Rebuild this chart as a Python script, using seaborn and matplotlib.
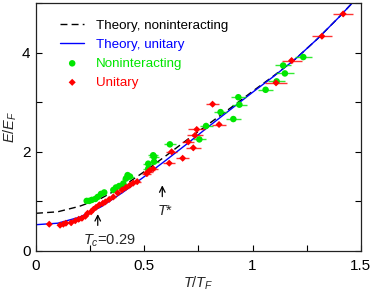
import numpy as np
import pandas as pd
import seaborn as sns
import matplotlib.pyplot as plt
from matplotlib.ticker import MultipleLocator, FormatStrFormatter

# theory curves
theory_x = [0, 0.1, 0.2, 0.3, 0.4, 0.5, 0.6, 0.7, 0.8, 0.9, 1.0, 1.1, 1.2, 1.3, 1.4, 1.46]
unitary_theory = [0.53, 0.56, 0.68, 0.89, 1.18, 1.50, 1.83, 2.17, 2.52, 2.86, 3.20, 3.53, 3.88, 4.28, 4.72, 5.0]
nonint_theory = [0.76, 0.79, 0.90, 1.06, 1.30, 1.60, 1.92, 2.25, 2.57, 2.89, 3.22, 3.54, 3.88, 4.28, 4.72, 5.0]

# unitary gas data
uni_t = [0.061, 0.111, 0.126, 0.138, 0.162, 0.181, 0.197, 0.212, 0.228, 0.238, 0.254,
         0.265, 0.277, 0.292, 0.308, 0.320, 0.338, 0.357, 0.377, 0.397, 0.415, 0.434,
         0.449, 0.467, 0.511, 0.518, 0.526, 0.541, 0.615, 0.626, 0.677, 0.703, 0.726,
         0.742, 0.734, 0.815, 0.845, 1.108, 1.180, 1.320, 1.418]
uni_e = [0.54, 0.52, 0.54, 0.56, 0.57, 0.61, 0.64, 0.66, 0.70, 0.76, 0.79,
         0.84, 0.88, 0.93, 0.96, 0.99, 1.04, 1.09, 1.17, 1.23, 1.28, 1.33,
         1.37, 1.40, 1.56, 1.60, 1.63, 1.66, 1.77, 2.00, 1.87, 2.20, 2.08,
         2.45, 2.33, 2.96, 2.55, 3.39, 3.84, 4.33, 4.78]
uni_terr = [0.006, 0.006, 0.006, 0.006, 0.006, 0.007, 0.007, 0.007, 0.008, 0.008, 0.008,
            0.009, 0.009, 0.009, 0.010, 0.010, 0.011, 0.012, 0.013, 0.014, 0.015, 0.016,
            0.017, 0.018, 0.020, 0.022, 0.022, 0.024, 0.028, 0.025, 0.030, 0.028, 0.035,
            0.040, 0.035, 0.028, 0.032, 0.050, 0.046, 0.045, 0.046]

# noninteracting gas data
non_t = [0.234, 0.246, 0.258, 0.274, 0.285, 0.300, 0.315, 0.357, 0.369, 0.384, 0.403,
         0.415, 0.423, 0.434, 0.518, 0.518, 0.541, 0.545, 0.545, 0.618, 0.754, 0.785,
         0.852, 0.911, 0.934, 0.939, 1.060, 1.111, 1.149, 1.141, 1.234]
non_e = [1.01, 1.01, 1.03, 1.05, 1.09, 1.15, 1.18, 1.23, 1.28, 1.31, 1.36,
         1.46, 1.53, 1.50, 1.66, 1.76, 1.93, 1.90, 1.80, 2.15, 2.25, 2.52,
         2.80, 2.66, 3.10, 2.95, 3.25, 3.42, 3.58, 3.74, 3.91]
non_terr = [0.008, 0.008, 0.008, 0.009, 0.009, 0.010, 0.010, 0.012, 0.013, 0.014, 0.015,
            0.016, 0.016, 0.017, 0.022, 0.022, 0.024, 0.025, 0.025, 0.028, 0.030, 0.030,
            0.032, 0.034, 0.035, 0.035, 0.036, 0.038, 0.040, 0.038, 0.040]

green = "#00e600"
red = "#ff0000"
blue = "#0000ff"

sns.set_style("ticks")
plt.rcParams['font.family'] = ['Liberation Sans', 'DejaVu Sans']
plt.rcParams['mathtext.fontset'] = 'custom'
plt.rcParams['mathtext.it'] = 'Liberation Sans:italic'
plt.rcParams['mathtext.rm'] = 'Liberation Sans'

fig = plt.figure(figsize=(3.74, 2.91), dpi=100)
ax = fig.add_axes([0.0963, 0.1375, 0.8687, 0.8522])

theory = pd.DataFrame({"T": theory_x, "unitary": unitary_theory, "nonint": nonint_theory})
sns.lineplot(data=theory, x="T", y="nonint", ax=ax, color="black", lw=1,
             linestyle=(0, (5, 3)), label="Theory, noninteracting")
sns.lineplot(data=theory, x="T", y="unitary", ax=ax, color=blue, lw=1,
             label="Theory, unitary")

ax.errorbar(non_t, non_e, xerr=non_terr, fmt="none", ecolor=green, elinewidth=1, alpha=0.8)
ax.errorbar(uni_t, uni_e, xerr=uni_terr, yerr=0.04, fmt="none", ecolor=red, elinewidth=1, alpha=0.8)
sns.scatterplot(x=non_t, y=non_e, ax=ax, color=green, marker="o", s=22, edgecolor="none",
                label="Noninteracting", zorder=3)
sns.scatterplot(x=uni_t, y=uni_e, ax=ax, color=red, marker="D", s=13, edgecolor="none",
                label="Unitary", zorder=4)

ax.set_xlim(0, 1.5)
ax.set_ylim(0, 5)
ax.xaxis.set_major_locator(MultipleLocator(0.5))
ax.xaxis.set_minor_locator(MultipleLocator(0.25))
ax.yaxis.set_major_locator(MultipleLocator(2))
ax.yaxis.set_minor_locator(MultipleLocator(1))
ax.xaxis.set_major_formatter(FormatStrFormatter("%g"))
ax.yaxis.set_major_formatter(FormatStrFormatter("%g"))
ax.tick_params(which="both", direction="in", length=4, width=0.8, right=True, top=False,
               labelsize=11, colors="black")
ax.tick_params(axis="x", pad=6)
ax.tick_params(axis="y", pad=4)
for s in ax.spines.values():
    s.set_linewidth(0.9)
    s.set_color("#222222")

ax.set_xlabel("$T/T_F$", fontsize=10.5, labelpad=1)
ax.set_ylabel("$E/E_F$", fontsize=10.5, labelpad=2)

ax.annotate("", xy=(0.285, 0.80), xytext=(0.285, 0.46),
            arrowprops=dict(arrowstyle="->", color="black", lw=0.9))
ax.text(0.34, 0.13, "$T_c$=0.29", fontsize=10.5, ha="center", va="baseline")
ax.annotate("", xy=(0.583, 1.38), xytext=(0.583, 1.04),
            arrowprops=dict(arrowstyle="->", color="black", lw=0.9))
ax.text(0.595, 0.72, "$T$*", fontsize=10.5, ha="center", va="baseline")

leg = ax.legend(loc="upper left", frameon=False, fontsize=9.6, handlelength=1.8,
                borderaxespad=0, labelspacing=0.5, handletextpad=0.9,
                bbox_to_anchor=(0.058, 0.955))
for txt, c in zip(leg.get_texts(), ["black", blue, green, red]):
    txt.set_color(c)

fig.savefig("out.png", dpi=100)
